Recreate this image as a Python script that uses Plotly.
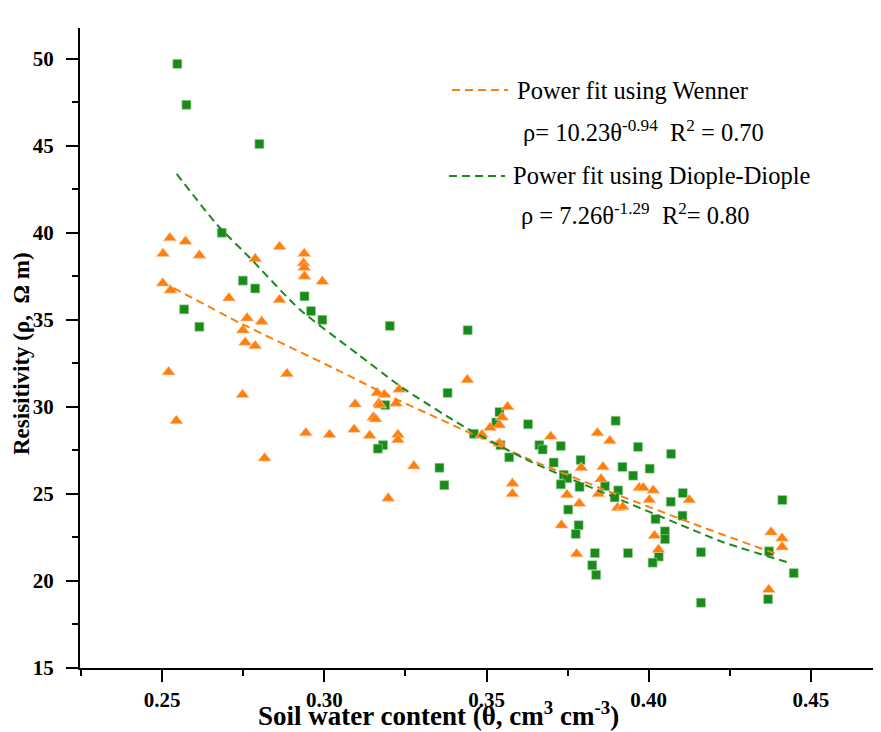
import plotly.graph_objects as go

# Wenner (orange triangles)
wenner_theta = [0.2524, 0.2572, 0.2503, 0.2615, 0.2862, 0.2787, 0.2938, 0.2936, 0.2938, 0.2939,
                0.2994, 0.2502, 0.2526, 0.2706, 0.2862, 0.2762, 0.2807, 0.2749, 0.2756, 0.2787,
                0.2520, 0.2748, 0.2544, 0.2885, 0.2943, 0.3016, 0.3092, 0.3095, 0.3140, 0.2816,
                0.3163, 0.3185, 0.3168, 0.3172, 0.3151, 0.3158, 0.3221, 0.3231, 0.3227, 0.3227,
                0.3197, 0.3276, 0.3441, 0.3565, 0.3548, 0.3540, 0.3511, 0.3486, 0.3540, 0.3580,
                0.3580, 0.3698, 0.3842, 0.3880, 0.3792, 0.3859, 0.3853, 0.3845, 0.3748, 0.3786,
                0.3971, 0.3983, 0.4014, 0.4002, 0.4125, 0.3904, 0.3920, 0.3731, 0.4018, 0.4030,
                0.3778, 0.4377, 0.4411, 0.4411, 0.4370]
wenner_rho = [39.7, 39.5, 38.8, 38.7, 39.2, 38.5, 38.8, 38.25, 38.0, 37.5,
              37.2, 37.1, 36.7, 36.25, 36.15, 35.1, 34.9, 34.4, 33.7, 33.5,
              32.0, 30.7, 29.2, 31.9, 28.5, 28.4, 28.7, 30.15, 28.35, 27.05,
              30.8, 30.7, 30.2, 30.1, 29.4, 29.3, 30.2, 31.0, 28.4, 28.1,
              24.75, 26.6, 31.55, 30.0, 29.4, 28.95, 28.8, 28.4, 27.9, 25.6,
              25.0, 28.3, 28.5, 28.05, 26.5, 26.55, 25.85, 25.0, 24.95, 24.45,
              25.35, 25.35, 25.2, 24.65, 24.65, 24.2, 24.25, 23.2, 22.6, 21.8,
              21.55, 22.8, 22.45, 21.95, 19.5]

# Dipole-Dipole (green squares)
dd_theta = [0.2547, 0.2575, 0.2800, 0.2684, 0.2749, 0.2787, 0.2568, 0.2615, 0.2939, 0.2959,
            0.2994, 0.3202, 0.3188, 0.3181, 0.3165, 0.3442, 0.3380, 0.3540, 0.3530, 0.3628,
            0.3461, 0.3543, 0.3570, 0.3355, 0.3370, 0.3898, 0.3663, 0.3673, 0.3729, 0.3967,
            0.4069, 0.3707, 0.3790, 0.3919, 0.3952, 0.4003, 0.3738, 0.3749, 0.3729, 0.3787,
            0.3865, 0.3906, 0.3895, 0.3752, 0.4105, 0.4068, 0.4021, 0.4104, 0.3784, 0.3775,
            0.4050, 0.4050, 0.4031, 0.4012, 0.3834, 0.3936, 0.3826, 0.3838, 0.4161, 0.4161,
            0.4412, 0.4371, 0.4447, 0.4368]
dd_rho = [49.7, 47.35, 45.1, 40.0, 37.25, 36.8, 35.6, 34.6, 36.35, 35.5,
          35.0, 34.65, 30.1, 27.8, 27.6, 34.4, 30.8, 29.7, 29.1, 29.0,
          28.45, 27.8, 27.1, 26.5, 25.5, 29.2, 27.8, 27.55, 27.75, 27.7,
          27.3, 26.8, 26.95, 26.55, 26.05, 26.45, 26.1, 25.9, 25.55, 25.4,
          25.45, 25.2, 24.8, 24.1, 25.05, 24.55, 23.55, 23.75, 23.2, 22.7,
          22.85, 22.4, 21.4, 21.05, 21.6, 21.6, 20.9, 20.35, 21.65, 18.75,
          24.65, 21.7, 20.45, 18.95]

# Power-fit curves
fit_w_theta = [0.2535, 0.2740, 0.3028, 0.3203, 0.3326, 0.3541, 0.3634, 0.3850, 0.4158, 0.4399]
fit_w_rho = [36.83, 34.82, 32.23, 30.60, 29.55, 27.73, 26.97, 25.34, 23.14, 21.51]
fit_d_theta = [0.2545, 0.2669, 0.2771, 0.2925, 0.3105, 0.3213, 0.3254, 0.3429, 0.3640, 0.3850, 0.4158, 0.4230, 0.4441]
fit_d_rho = [43.38, 40.47, 38.55, 35.58, 33.0, 31.47, 30.93, 28.88, 26.82, 25.15, 22.76, 22.22, 21.0]

x_ticks = [0.25, 0.30, 0.35, 0.40, 0.45]
y_ticks = [15, 20, 25, 30, 35, 40, 45, 50]

ORANGE = "#ff7f0e"
GREEN = "#1a8a1a"
FONT = "Liberation Serif, Times New Roman, serif"

fig = go.Figure()
fig.add_trace(go.Scatter(x=dd_theta, y=dd_rho, mode="markers",
                         marker=dict(symbol="square", size=9, color=GREEN,
                                     line=dict(width=0.8, color="rgba(150,210,150,0.8)")),
                         showlegend=False))
fig.add_trace(go.Scatter(x=wenner_theta, y=wenner_rho, mode="markers",
                         marker=dict(symbol="triangle-up", size=11.5, color=ORANGE,
                                     line=dict(width=0.8, color="rgba(255,200,150,0.8)")),
                         showlegend=False))
fig.add_trace(go.Scatter(x=fit_w_theta, y=fit_w_rho, mode="lines",
                         line=dict(color=ORANGE, width=2, dash="8px,5px", shape="spline", smoothing=0.6),
                         showlegend=False))
fig.add_trace(go.Scatter(x=fit_d_theta, y=fit_d_rho, mode="lines",
                         line=dict(color=GREEN, width=2, dash="8px,5px", shape="spline", smoothing=0.6),
                         showlegend=False))

# page body has an 8px margin: figure pixel = screen pixel - 8
OFF = 8
FW, FH = 881 - OFF, 732 - OFF
L, T, W, H = 80 - OFF, 28 - OFF, 801, 640


def px(x):
    return (x - OFF - L) / W


def py(y):
    return (T + H - (y - OFF)) / H


ann = []
ann.append(dict(x=px(515), y=py(90), text="Power fit using Wenner"))
ann.append(dict(x=px(521), y=py(131), text="ρ= 10.23θ<sup>-0.94</sup>\u00a0\u00a0R<sup>2</sup> = 0.70"))
ann.append(dict(x=px(511), y=py(176), text="Power fit using Diople-Diople"))
ann.append(dict(x=px(519), y=py(214), text="ρ = 7.26θ<sup>-1.29</sup>\u00a0\u00a0R<sup>2</sup>= 0.80"))
annotations = []
for a in ann:
    a.update(xref="paper", yref="paper", xanchor="left", yanchor="middle", showarrow=False,
             font=dict(family=FONT, size=24.5, color="black"))
    annotations.append(a)

annotations.append(dict(x=px(438), y=py(714), xref="paper", yref="paper", showarrow=False,
                        xanchor="center", yanchor="middle",
                        text="Soil water content (θ, cm<sup>3</sup> cm<sup>-3</sup>)",
                        font=dict(family=FONT, size=27, color="black", weight="bold")))
annotations.append(dict(x=px(21), y=py(354), xref="paper", yref="paper", showarrow=False,
                        xanchor="center", yanchor="middle", textangle=-90,
                        text="Resisitivity (ρ,\u00a0\u00a0Ω m)",
                        font=dict(family=FONT, size=23, color="black", weight="bold")))

shapes = [
    dict(type="line", xref="paper", yref="paper", x0=px(452), x1=px(508), y0=py(90), y1=py(90),
         line=dict(color=ORANGE, width=2, dash="8px,5px")),
    dict(type="line", xref="paper", yref="paper", x0=px(449), x1=px(505), y0=py(176), y1=py(176),
         line=dict(color=GREEN, width=2, dash="8px,5px")),
]

fig.update_layout(
    width=FW, height=FH,
    margin=dict(l=L, r=FW - L - W, t=T, b=FH - T - H, pad=0),
    paper_bgcolor="white", plot_bgcolor="white",
    annotations=annotations, shapes=shapes,
    font=dict(family=FONT, color="black"),
)
fig.update_xaxes(range=[0.2247, 0.4716], tickvals=x_ticks, ticktext=[f"{v:.2f}" for v in x_ticks],
                 showgrid=False, zeroline=False, showline=True, linecolor="black", linewidth=2,
                 ticks="outside", ticklen=12, tickwidth=2, tickcolor="black",
                 minor=dict(ticks="outside", ticklen=6, tickwidth=2, tickcolor="black", dtick=0.025, tick0=0.225),
                 tickfont=dict(family=FONT, size=21, color="black", weight="bold"))
fig.update_yaxes(range=[15, 51.76], tickvals=y_ticks, ticktext=[str(v) for v in y_ticks],
                 showgrid=False, zeroline=False, showline=True, linecolor="black", linewidth=2,
                 ticks="outside", ticklen=12, tickwidth=2, tickcolor="black",
                 minor=dict(ticks="outside", ticklen=6, tickwidth=2, tickcolor="black", dtick=2.5, tick0=0),
                 ticklabelstandoff=8,
                 tickfont=dict(family=FONT, size=21, color="black", weight="bold"))

fig.write_html("out.html")
